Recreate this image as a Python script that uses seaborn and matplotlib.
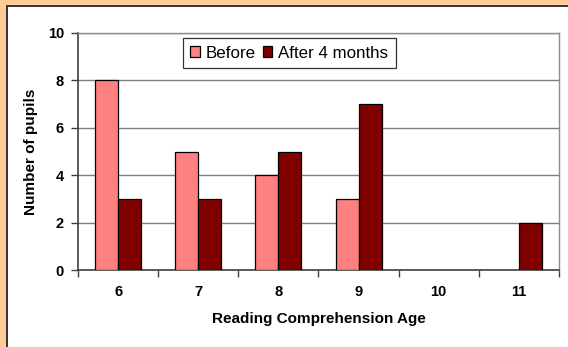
import matplotlib
matplotlib.use("Agg")
import matplotlib.pyplot as plt
from matplotlib.patches import Rectangle, Patch
from matplotlib.ticker import FixedLocator
import pandas as pd
import seaborn as sns

# Reading comprehension ages and pupil counts
ages = ["6", "7", "8", "9", "10", "11"]
before = [8, 5, 4, 3, 0, 0]
after_4_months = [3, 3, 5, 7, 0, 2]
series_names = ["Before", "After 4 months"]
series_colors = ["#FF8080", "#800000"]
y_ticks = [0, 2, 4, 6, 8, 10]

df = pd.DataFrame({
    "age": ages * 2,
    "pupils": before + after_4_months,
    "period": [series_names[0]] * len(ages) + [series_names[1]] * len(ages),
})

sns.set_theme(style="white")
plt.rcParams["font.family"] = ["Liberation Sans", "DejaVu Sans"]

W, H = 568, 347
fig = plt.figure(figsize=(W / 100, H / 100), dpi=100, facecolor="#FFCC99")

# white chart panel with a dark frame, orange margin on top and left
panel = Rectangle((6.5 / W, -0.1), 1.2, 1 - 6.5 / H + 0.1, transform=fig.transFigure,
                  facecolor="white", edgecolor="#333333", linewidth=1.4, zorder=-1)
fig.patches.append(panel)

ax = fig.add_axes([78 / W, 1 - 270 / H, (559 - 78) / W, (270 - 33) / H])
ax.set_facecolor("white")

sns.barplot(data=df, x="age", y="pupils", hue="period", order=ages,
            hue_order=series_names, palette=series_colors, width=0.572,
            gap=0, edgecolor="black", linewidth=0.9, saturation=1,
            err_kws={"linewidth": 0}, legend=False, ax=ax, zorder=3)

# zero-height bars are not drawn
for p in ax.patches:
    if p.get_height() == 0:
        p.set_visible(False)

ax.set_ylim(0, 10)
ax.set_xlim(-0.5, len(ages) - 0.5)
ax.set_yticks(y_ticks)
ax.set_yticklabels([str(t) for t in y_ticks])
ax.yaxis.grid(True, color="#808080", linewidth=1.0, zorder=0)
ax.set_axisbelow(True)

for side in ["top", "right"]:
    ax.spines[side].set_color("#8C8C8C")
    ax.spines[side].set_linewidth(1.0)
for side in ["left", "bottom"]:
    ax.spines[side].set_color("#404040")
    ax.spines[side].set_linewidth(1.2)

ax.xaxis.set_minor_locator(FixedLocator([i - 0.5 for i in range(len(ages) + 1)]))
ax.tick_params(axis="x", which="major", length=0, pad=11, labelsize=10.5)
ax.tick_params(axis="x", which="minor", length=5, width=1.0, color="#404040",
               direction="out", bottom=True)
ax.tick_params(axis="y", which="major", length=5, width=1.0, color="#404040",
               direction="out", left=True, pad=5, labelsize=10.5)
for lbl in ax.get_xticklabels() + ax.get_yticklabels():
    lbl.set_fontweight("bold")
    lbl.set_color("black")

ax.set_xlabel("Reading Comprehension Age", fontsize=11, fontweight="bold",
              color="black", labelpad=9)
ax.set_ylabel("Number of pupils", fontsize=11, fontweight="bold",
              color="black", labelpad=7)

handles = [Patch(facecolor=c, edgecolor="black", linewidth=0.9, label=n)
           for n, c in zip(series_names, series_colors)]
leg = ax.legend(handles=handles, loc="upper left", bbox_to_anchor=(0.218, 0.979),
                ncol=2, fontsize=12.2, frameon=True, fancybox=False, shadow=False,
                handlelength=0.55, handleheight=0.6, handletextpad=0.35,
                columnspacing=0.4, borderpad=0.45, borderaxespad=0)
leg.get_frame().set_edgecolor("black")
leg.get_frame().set_linewidth(0.9)
leg.set_zorder(5)
for txt in leg.get_texts():
    txt.set_color("black")

fig.savefig("out.png", dpi=100, facecolor=fig.get_facecolor())
